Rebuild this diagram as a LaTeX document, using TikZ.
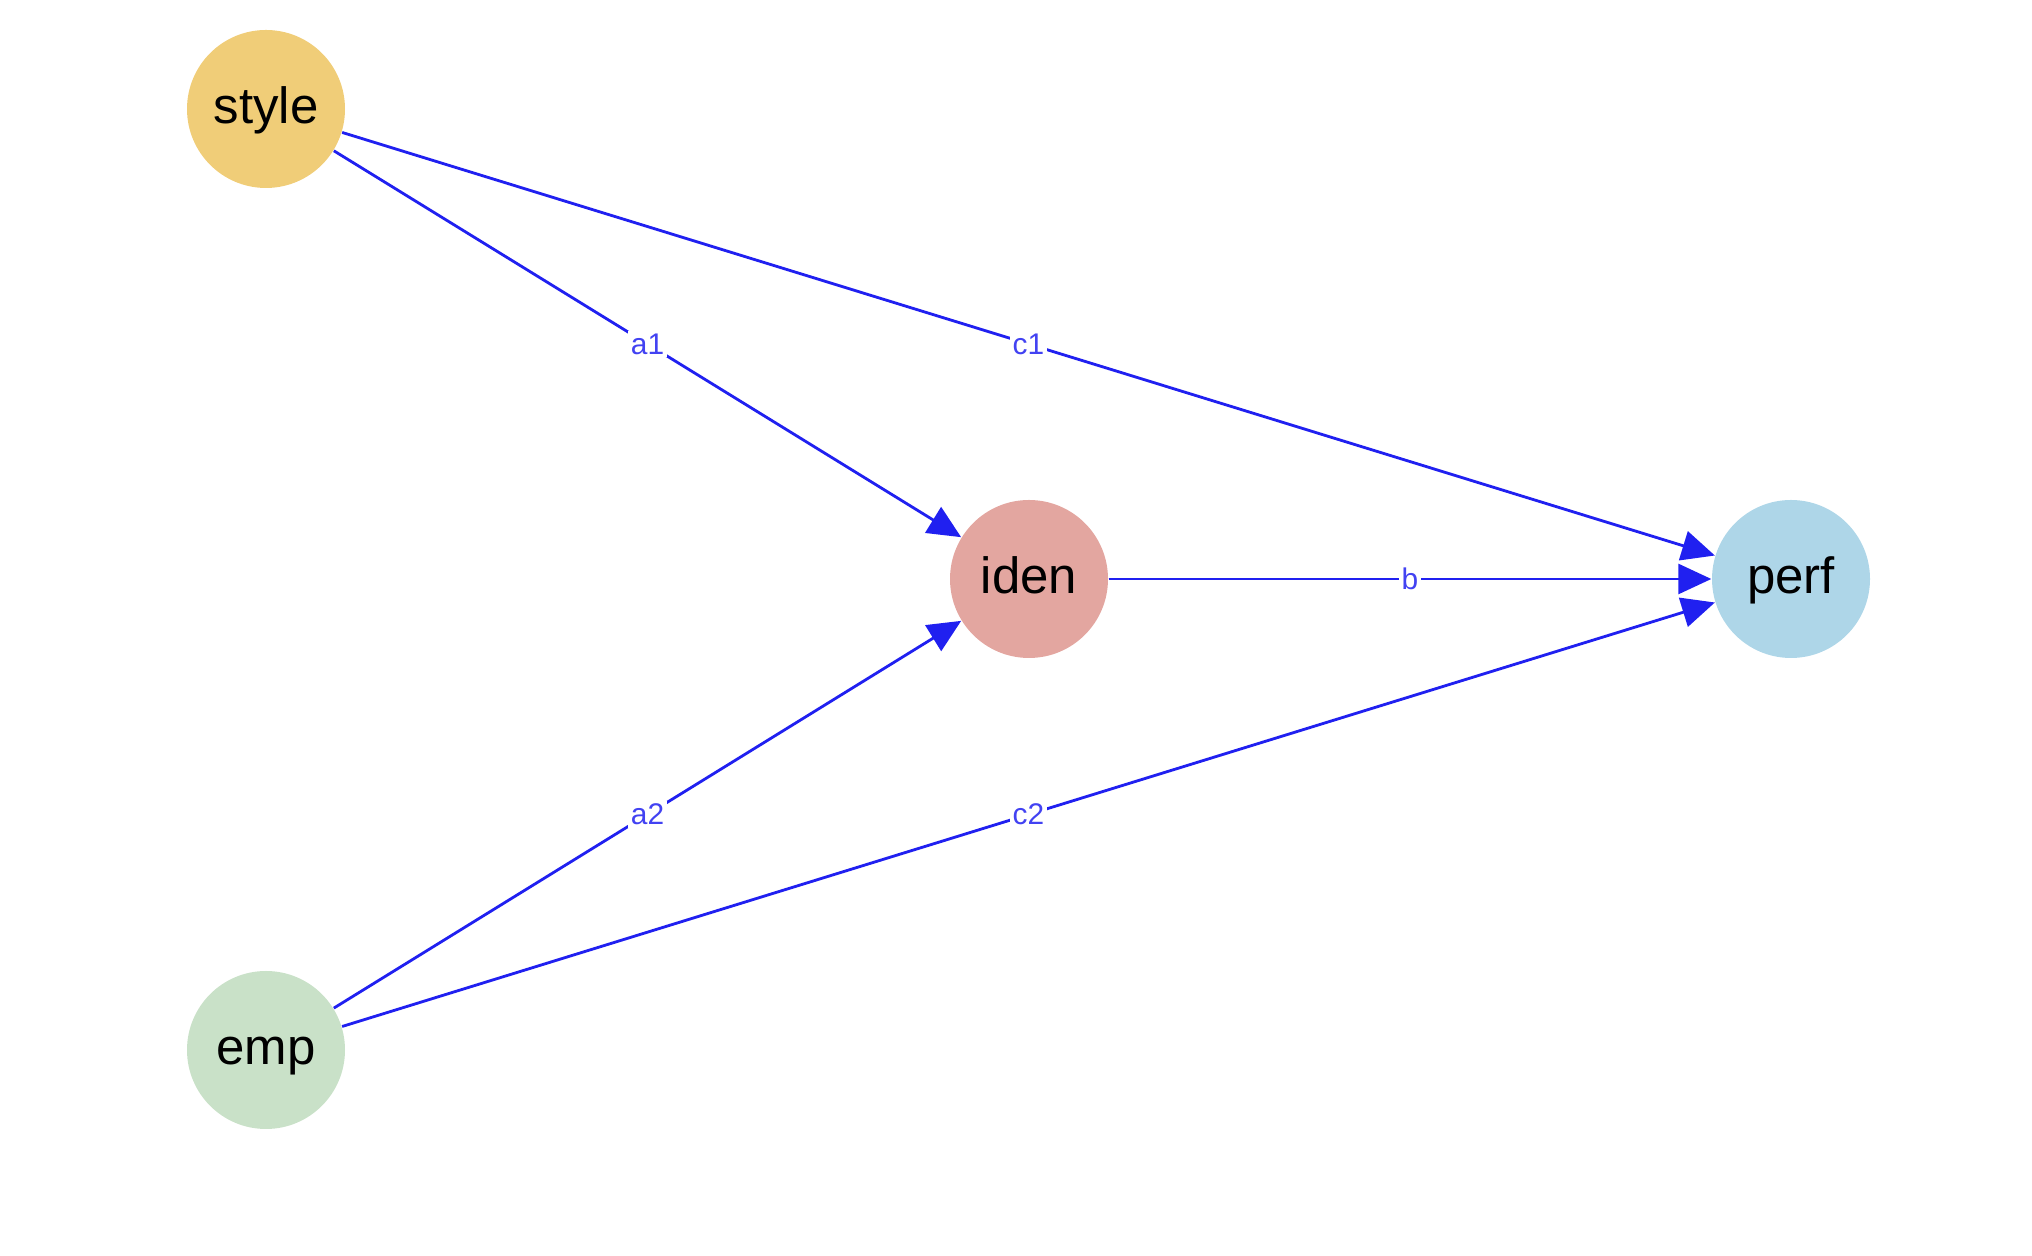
\documentclass[tikz,border=0pt]{standalone}
\usepackage{fontspec}
\setmainfont{Liberation Sans}
\usetikzlibrary{arrows.meta}
\definecolor{stylegold}{HTML}{F0CD78}
\definecolor{idenrose}{HTML}{E3A6A0}
\definecolor{perfblue}{HTML}{AED6E8}
\definecolor{empgreen}{HTML}{C9E1C8}
\definecolor{edgeblue}{HTML}{2020F0}
\begin{document}
\begin{tikzpicture}[
  var/.style={circle, minimum size=15.8mm, inner sep=0pt, text height=0.8em, text depth=0pt,
              font=\fontsize{14.5}{17}\selectfont},
  arr/.style={-{Triangle[length=3.3mm, width=3mm]}, line width=0.8pt, draw=edgeblue, fill=edgeblue},
  lab/.style={midway, fill=white, inner sep=0.8pt, text=edgeblue!85!white,
              font=\fontsize{8.5}{10}\selectfont}]
\useasboundingbox (0,0) rectangle (20.32,12.56);
\node[var, fill=stylegold] (style) at (2.66,11.47) {style};
\node[var, fill=idenrose] (iden) at (10.29,6.77) {iden};
\node[var, fill=perfblue] (perf) at (17.91,6.77) {perf};
\node[var, fill=empgreen] (emp) at (2.66,2.06) {emp};
\draw[arr] (style) -- (iden) node[lab] {a1};
\draw[arr] (emp) -- (iden) node[lab] {a2};
\draw[arr] (iden) -- (perf) node[lab] {b};
\draw[arr] (style) -- (perf) node[lab] {c1};
\draw[arr] (emp) -- (perf) node[lab] {c2};
\end{tikzpicture}
\end{document}
